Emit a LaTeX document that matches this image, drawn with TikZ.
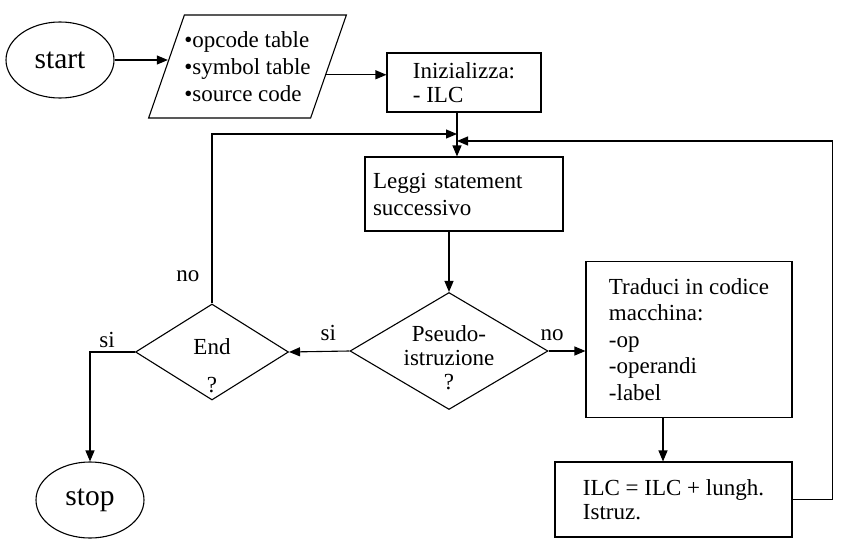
\documentclass[tikz,border=0pt]{standalone}
\usepackage{fontspec}
\setmainfont{Liberation Serif}
\usepackage{tikz}
\usetikzlibrary{positioning,arrows.meta,calc,shapes.geometric}
\tikzset{
  >={Triangle[length=11pt,width=9pt]},
  every node/.style={font=\fontsize{23}{24}\selectfont},
  term/.style={draw, ellipse, minimum width=108pt, minimum height=76pt, inner sep=0pt,
    font=\fontsize{29.5}{30}\selectfont},
  io/.style={draw, trapezium, trapezium left angle=63, trapezium right angle=117,
    trapezium stretches body, minimum width=191pt, minimum height=103pt,
    align=left, inner sep=0pt, font=\fontsize{23}{27}\selectfont},
  proc/.style={draw, rectangle, align=left, inner sep=0pt},
  decision/.style={draw, diamond, inner sep=0pt},
  lbl/.style={inner sep=4pt},
}

\begin{document}
\begin{tikzpicture}[x=1pt, y=-1pt, line width=1.1pt]
  \useasboundingbox (0,0) rectangle (846,551);
  % nodes
  \node[term] (start) at (60,60) {start};
  \node[io] (input) at (247.5,66.5) {•opcode table\\•symbol table\\•source code};
  \node[proc, minimum width=154pt, minimum height=59pt] (init) at (464,82.5) {Inizializza:\\- ILC};
  \node[proc, text width=182pt, inner xsep=8pt, minimum height=74pt,
    font=\fontsize{23}{27}\selectfont] (leggi) at (464,194) {Leggi statement\\successivo};
  \node[decision, minimum width=198pt, minimum height=117pt,
    label={[align=center, yshift=-7pt]center:{Pseudo-\\istruzione\\?}}] (pseudo) at (449,351) {};
  \node[decision, minimum width=153pt, minimum height=96pt,
    label={[align=center, yshift=-14pt]center:{End\\[14pt]?}}] (endq) at (212,352) {};
  \node[proc, minimum width=206pt, minimum height=156pt,
    font=\fontsize{23}{26.5}\selectfont] (trad) at (689,339.5)
    {Traduci in codice\\macchina:\\-op\\-operandi\\-label};
  \node[proc, minimum width=237pt, minimum height=75pt] (ilc) at (673.5,499.5) {ILC = ILC + lungh.\\Istruz.};
  \node[term] (stop) at (90,500) {stop};

  % join points
  \coordinate (jl) at (457,134);
  \coordinate (jr) at (457,141);
  \coordinate (out) at (input.-6.4);
  \coordinate (tradout) at ([xshift=-26pt]trad.south);

  % connectors
  \draw[->] (start.east) -- (start.east -| input.176);
  \draw[->] (out) -- (out -| init.west);
  \draw[->] (init.south -| jl) -- (jl |- leggi.north);
  \draw[->] (leggi.south -| pseudo.north) -- (pseudo.north);
  \draw[->] (pseudo.west) -- node[lbl, above, pos=0.35, yshift=6pt] {si} (endq.east);
  \draw[->] (pseudo.east) -- node[lbl, above, pos=0.1, yshift=6pt] {no} (pseudo.east -| trad.west);
  \draw[->] (endq.north) |- node[lbl, left, pos=0.08, xshift=-8pt] {no} (jl);
  \draw[->] (endq.west) -| node[lbl, above, pos=0.31] {si} (stop.north);
  \draw[->] (tradout) -- (tradout |- ilc.north);
  \draw[->] (ilc.east) -- ++(40,0) |- (jr);
\end{tikzpicture}
\end{document}
